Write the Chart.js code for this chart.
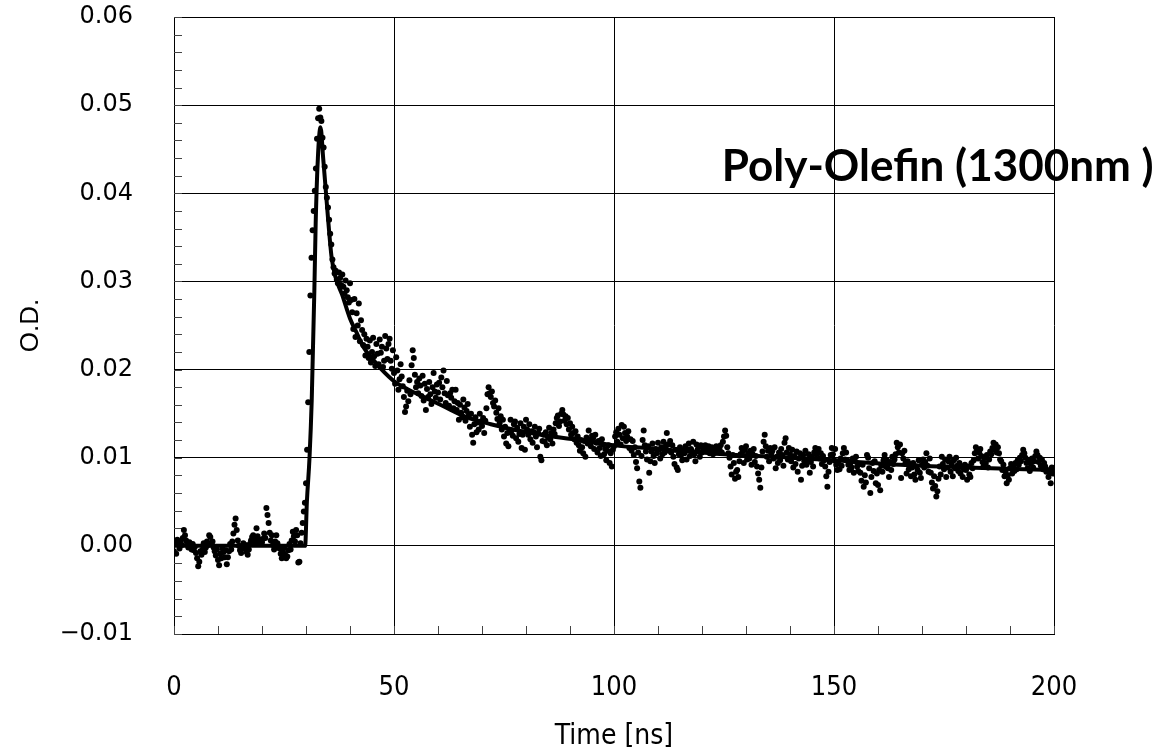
<!DOCTYPE html>
<html>
<head>
<meta charset="utf-8">
<script src="https://cdn.jsdelivr.net/npm/chart.js@4.4.1/dist/chart.umd.min.js"></script>
<style>
  html, body { margin: 0; padding: 0; background: #fff; }
  #wrap { width: 1157px; height: 754px; }
</style>
</head>
<body>
<div id="wrap"><canvas id="chart" width="1157" height="754"></canvas></div>
<script>
// sampled every 0.25 ns from 0 to 200 ns, values in mOD (x1e-3 O.D.)
const timeStep = 0.25;
const odMilli = [
  -0.6, 0.4, -0.9, 0.7, 0.2, -0.3, 0.5, 0.1, 0.9, 1.8, 1.2, 0.6, 0.3, -0.2, 0.4, 0.0,
  -0.4, 0.2, -0.5, -0.1, -0.8, -1.4, -2.3, -1.8, -0.6, -1.0, -0.4, 0.3, -0.7, -0.2, 0.5, 0.1,
  1.2, 1.0, 0.3, 0.5, -0.2, -0.6, -1.1, -0.4, -1.6, -2.2, -0.9, -1.4, -0.3, -0.7, -1.3, -0.5,
  -2.1, -1.3, -0.6, 0.2, -0.4, 0.5, 1.4, 2.4, 3.1, 1.8, 0.6, 0.0, -0.5, -0.8, -0.2, 0.3,
  -0.3, 0.1, -0.7, -1.0, -0.4, 0.2, 0.6, 1.0, 1.2, 0.5, 0.8, 2.0, 1.1, 0.3, 0.7, 0.2,
  0.4, 0.8, 1.4, 0.9, 4.3, 3.5, 2.6, 1.5, 0.6, 1.2, 0.1, -0.4, 0.5, 1.2, 0.3, -0.2,
  -0.3, -0.9, -1.4, -0.6, -0.2, -1.0, -1.4, -1.2, -0.5, 0.2, -0.4, 0.6, 1.6, 1.1, 0.5, 1.8,
  1.2, -1.9, -1.8, 0.3, 1.5, 2.6, 3.9, 4.9, 7.1, 10.9, 16.3, 22.0, 28.4, 32.7, 35.8, 38.0,
  40.3, 42.8, 46.2, 48.5, 49.6, 48.6, 48.2, 46.3, 45.2, 43.0, 40.7, 39.5, 38.4, 37.0, 35.4, 34.2,
  32.5, 31.6, 30.9, 31.2, 30.2, 29.8, 31.0, 30.4, 29.6, 30.8, 29.4, 28.6, 30.1, 29.0, 28.2, 27.6,
  29.8, 27.9, 26.5, 24.6, 28.0, 23.7, 26.4, 25.0, 27.5, 23.2, 25.6, 24.5, 22.8, 24.0, 21.6, 23.5,
  22.6, 21.3, 23.3, 20.8, 22.0, 23.6, 21.5, 20.4, 22.9, 21.8, 20.6, 23.4, 21.9, 22.6, 20.3, 21.0,
  23.8, 22.4, 21.2, 22.9, 23.5, 21.0, 20.1, 22.2, 19.6, 18.4, 21.4, 19.9, 17.7, 18.9, 20.6, 19.2,
  18.1, 16.9, 15.2, 15.8, 17.6, 16.4, 18.8, 17.2, 20.5, 22.2, 21.3, 19.4, 18.0, 18.6, 17.3, 19.0,
  18.2, 17.0, 19.3, 16.5, 18.4, 15.4, 17.8, 16.9, 18.6, 17.2, 16.1, 18.0, 19.6, 17.5, 16.8, 18.3,
  17.4, 18.5, 16.6, 19.1, 18.0, 19.9, 17.3, 16.2, 18.7, 17.1, 15.9, 17.3, 16.8, 17.7, 15.6, 16.4,
  17.7, 15.4, 16.2, 14.3, 16.0, 15.1, 14.6, 16.6, 15.7, 14.2, 15.3, 16.1, 14.8, 13.5, 15.0, 12.6,
  11.7, 13.8, 14.6, 12.9, 14.0, 13.2, 15.0, 14.1, 13.6, 14.5, 12.8, 14.2, 15.6, 17.2, 18.0, 17.3,
  16.9, 17.5, 16.2, 15.8, 16.5, 15.1, 14.4, 15.6, 13.9, 14.7, 13.2, 14.3, 12.4, 13.5, 11.6, 12.8,
  11.3, 12.9, 14.3, 13.1, 12.5, 13.8, 14.1, 12.2, 13.4, 11.8, 12.7, 13.9, 11.1, 12.6, 13.5, 10.9,
  14.3, 13.2, 12.6, 13.8, 12.1, 13.0, 11.7, 12.9, 13.5, 12.4, 11.2, 12.8, 13.3, 10.1, 9.7, 11.9,
  12.6, 11.8, 12.9, 11.4, 12.3, 13.4, 12.1, 12.8, 11.6, 13.2, 12.7, 13.9, 14.5, 14.8, 13.6, 14.1,
  15.0, 15.4, 14.9, 14.2, 14.7, 13.8, 14.5, 13.2, 13.9, 12.6, 13.5, 12.8, 12.1, 13.0, 11.7, 12.4,
  11.4, 10.8, 12.0, 11.2, 10.5, 11.9, 10.1, 12.3, 11.6, 13.1, 12.0, 11.3, 12.5, 12.2, 11.0, 12.6,
  11.7, 10.6, 11.9, 11.1, 10.2, 12.1, 11.5, 10.4, 11.0, 9.7, 10.8, 11.4, 9.4, 10.5, 9.0, 10.9,
  11.3, 12.4, 12.9, 11.8, 13.3, 12.6, 11.5, 13.7, 12.2, 13.5, 12.8, 11.9, 12.4, 13.0, 11.1, 12.1,
  10.8, 11.9, 10.3, 11.2, 9.5, 8.8, 10.6, 7.3, 6.6, 10.2, 12.0, 13.1, 11.4, 10.7, 9.8, 11.3,
  8.3, 9.6, 10.7, 11.6, 10.2, 9.4, 11.0, 10.5, 11.7, 10.9, 9.9, 11.2, 10.4, 11.8, 10.6, 11.3,
  12.8, 11.5, 10.8, 11.9, 10.6, 11.4, 10.1, 9.3, 10.9, 8.9, 8.6, 10.4, 11.2, 10.3, 9.7, 10.8,
  10.5, 11.3, 9.8, 10.9, 11.6, 10.2, 11.0, 10.7, 11.8, 10.4, 9.6, 11.5, 10.9, 11.2, 10.1, 11.4,
  10.6, 11.1, 10.8, 11.4, 10.7, 11.0, 11.3, 10.5, 10.9, 11.2, 10.4, 11.0, 10.6, 11.3, 10.8, 11.1,
  10.9, 11.4, 10.6, 11.8, 12.4, 13.1, 12.5, 11.2, 10.5, 10.0, 9.0, 8.1, 10.3, 9.4, 7.6, 8.4,
  8.6, 7.8, 9.6, 10.4, 11.1, 10.7, 9.4, 10.9, 11.3, 9.8, 10.5, 9.9, 10.8, 9.2, 10.4, 11.0,
  9.5, 10.2, 9.0, 8.2, 7.5, 6.6, 8.9, 10.7, 11.8, 12.6, 11.3, 10.1, 10.8, 9.6, 11.1, 10.5,
  10.8, 9.9, 11.2, 8.8, 10.1, 9.4, 10.6, 9.7, 11.0, 10.3, 9.1, 11.7, 12.2, 10.6, 9.8, 11.1,
  10.4, 9.6, 10.9, 8.9, 10.2, 9.3, 10.7, 8.4, 9.9, 10.5, 7.5, 9.1, 10.3, 9.6, 10.8, 9.2,
  9.8, 10.4, 8.3, 9.5, 10.1, 9.0, 10.6, 11.1, 10.4, 10.7, 11.0, 9.9, 10.5, 9.3, 10.2, 9.7,
  9.0, 7.9, 6.7, 8.4, 9.5, 10.3, 11.1, 10.4, 9.7, 11.0, 9.2, 8.6, 9.5, 8.7, 9.9, 9.1,
  10.5, 11.1, 9.8, 10.6, 9.7, 9.2, 8.6, 9.4, 8.9, 9.9, 8.3, 9.6, 10.1, 9.0, 8.5, 9.3,
  8.3, 7.4, 9.2, 6.7, 8.0, 7.2, 10.3, 10.0, 8.8, 6.0, 7.8, 9.4, 8.5, 9.6, 7.1, 8.2,
  6.9, 8.6, 6.3, 9.1, 8.4, 9.7, 10.3, 9.0, 9.7, 8.8, 7.8, 9.5, 8.6, 10.1, 9.3, 9.8,
  10.4, 11.7, 11.2, 10.6, 11.5, 7.7, 10.5, 9.9, 10.8, 9.4, 8.2, 9.6, 8.7, 9.3, 7.9, 8.9,
  9.4, 8.1, 7.5, 9.0, 8.6, 9.7, 8.3, 7.7, 9.2, 9.8, 8.9, 9.5, 10.5, 9.1, 8.4, 9.9,
  8.3, 7.2, 6.5, 7.9, 6.8, 5.6, 6.2, 7.6, 9.0, 8.1, 10.1, 9.3, 8.7, 9.8, 7.8, 8.9,
  9.6, 10.1, 8.4, 9.3, 7.9, 9.7, 8.8, 10.0, 9.1, 8.5, 9.4, 8.2, 9.0, 7.8, 8.7, 9.2,
  8.6, 7.5, 9.0, 8.1, 7.8, 9.4, 8.8, 9.7, 10.5, 11.2, 10.8, 9.9, 10.6, 11.0, 10.2, 9.5,
  9.1, 10.0, 9.4, 10.3, 8.9, 9.8, 10.7, 10.4, 11.1, 11.7, 10.9, 11.5, 10.6, 11.2, 10.5, 9.8,
  9.6, 8.6, 9.2, 7.9, 8.4, 7.1, 8.0, 7.5, 8.8, 9.3, 8.2, 9.0, 8.5, 9.4, 8.7, 9.7,
  9.2, 10.0, 9.6, 10.3, 10.9, 10.5, 10.0, 9.4, 8.8, 9.7, 8.5, 9.3, 9.9, 8.9, 9.6, 10.2,
  10.7, 10.3, 9.5, 10.0, 9.1, 9.8, 8.7, 9.4, 9.0, 8.4, 8.6, 7.8, 8.3, 7.1, 8.9, 8.2,
  8.6
];

// fitted curve (ns, mOD)
const fitTime = [0, 29.8, 30.2, 30.8, 31.3, 31.9, 32.2, 32.7, 33.3, 33.9, 34.5, 35.1, 35.8, 36.7,
  38.2, 40, 41.5, 43, 45.3, 47, 50.2, 53, 56.7, 61, 66.5, 72, 81, 92, 100, 110, 125, 140, 150,
  165, 180, 200];
const fitMilli = [0, 0, 5, 10, 16.5, 29, 36.6, 44, 47.5, 44, 40.3, 36.6, 32.8, 30.5,
  28.5, 25.8, 24.2, 22.6, 21.1, 20.1, 18.6, 17.8, 16.9, 15.9, 14.6, 13.8, 12.8, 12.0, 11.4, 11.0,
  10.4, 10.0, 9.7, 9.2, 8.9, 8.6];

const xTicks = [0, 50, 100, 150, 200];
const yTicks = [-0.01, 0, 0.01, 0.02, 0.03, 0.04, 0.05, 0.06];
const xMinorStep = 10;
const yMinorStep = 0.002;
const chartTitle = "Poly-Olefin (1300nm )";

const points = odMilli.map((v, i) => ({ x: i * timeStep, y: v / 1000 }));
const fit = fitTime.map((t, i) => ({ x: t, y: fitMilli[i] / 1000 }));

// inner minor ticks + the label inside the plot
const extras = {
  id: "extras",
  beforeDatasetsDraw(chart) {
    const { ctx, chartArea, scales } = chart;
    ctx.save();
    ctx.strokeStyle = "#444";
    ctx.lineWidth = 1;
    ctx.beginPath();
    for (let v = yTicks[0]; v <= yTicks[yTicks.length - 1] + 1e-9; v += yMinorStep) {
      const y = Math.round(scales.y.getPixelForValue(v)) + 0.5;
      ctx.moveTo(chartArea.left, y);
      ctx.lineTo(chartArea.left + 8, y);
    }
    for (let v = xTicks[0]; v <= xTicks[xTicks.length - 1]; v += xMinorStep) {
      const x = Math.round(scales.x.getPixelForValue(v)) + 0.5;
      ctx.moveTo(x, chartArea.bottom);
      ctx.lineTo(x, chartArea.bottom - 8);
    }
    ctx.stroke();
    ctx.restore();
  },
  afterDatasetsDraw(chart) {
    const { ctx, scales } = chart;
    ctx.save();
    ctx.fillStyle = "#000";
    ctx.font = "bold 44px Lato, 'Open Sans', sans-serif";
    ctx.textBaseline = "alphabetic";
    ctx.fillText(chartTitle, scales.x.getPixelForValue(124.5), scales.y.getPixelForValue(0.0414));
    ctx.restore();
  }
};

new Chart(document.getElementById("chart"), {
  type: "scatter",
  data: {
    datasets: [
      {
        label: "data",
        data: points,
        pointRadius: 3,
        pointBackgroundColor: "#000",
        pointBorderWidth: 0,
        showLine: false
      },
      {
        label: "fit",
        type: "line",
        data: fit,
        borderColor: "#000",
        borderWidth: 4,
        pointRadius: 0,
        fill: false,
        cubicInterpolationMode: "monotone"
      }
    ]
  },
  options: {
    responsive: false,
    animation: false,
    devicePixelRatio: 1,
    layout: { padding: { left: 0, top: 17, right: 103, bottom: 0 } },
    plugins: {
      legend: { display: false },
      tooltip: { enabled: false }
    },
    scales: {
      x: {
        type: "linear",
        min: xTicks[0],
        max: xTicks[xTicks.length - 1],
        afterBuildTicks: (s) => { s.ticks = xTicks.map((v) => ({ value: v })); },
        afterFit: (s) => { s.height = 120; s.paddingLeft = 0; s.paddingRight = 0; },
        grid: { color: "#000", lineWidth: 1, drawTicks: false },
        border: { color: "#000", width: 1 },
        ticks: {
          padding: 38,
          color: "#000",
          font: { family: "'Liberation Sans Narrow', 'DejaVu Sans Condensed', sans-serif", size: 27 },
          maxRotation: 0,
          autoSkip: false
        },
        title: {
          display: true,
          text: "Time [ns]",
          color: "#000",
          font: { family: "'Liberation Sans Narrow', 'DejaVu Sans Condensed', sans-serif", size: 28 },
          padding: { top: 0, bottom: 0 }
        }
      },
      y: {
        type: "linear",
        min: yTicks[0],
        max: yTicks[yTicks.length - 1],
        afterBuildTicks: (s) => { s.ticks = yTicks.map((v) => ({ value: v })); },
        afterFit: (s) => { s.width = 174; s.paddingTop = 0; s.paddingBottom = 0; },
        grid: { color: "#000", lineWidth: 1, drawTicks: false },
        border: { color: "#000", width: 1 },
        ticks: {
          padding: 41,
          color: "#000",
          font: { family: "'DejaVu Sans', sans-serif", size: 24 },
          autoSkip: false,
          callback: (v) => (v < 0 ? "\u2212" : "") + Math.abs(v).toFixed(2)
        },
        title: {
          display: true,
          text: "O.D.",
          color: "#000",
          font: { family: "'Liberation Sans', Arial, sans-serif", size: 26 },
          padding: { top: 15, bottom: 0 }
        }
      }
    }
  },
  plugins: [extras]
});
</script>
</body>
</html>
